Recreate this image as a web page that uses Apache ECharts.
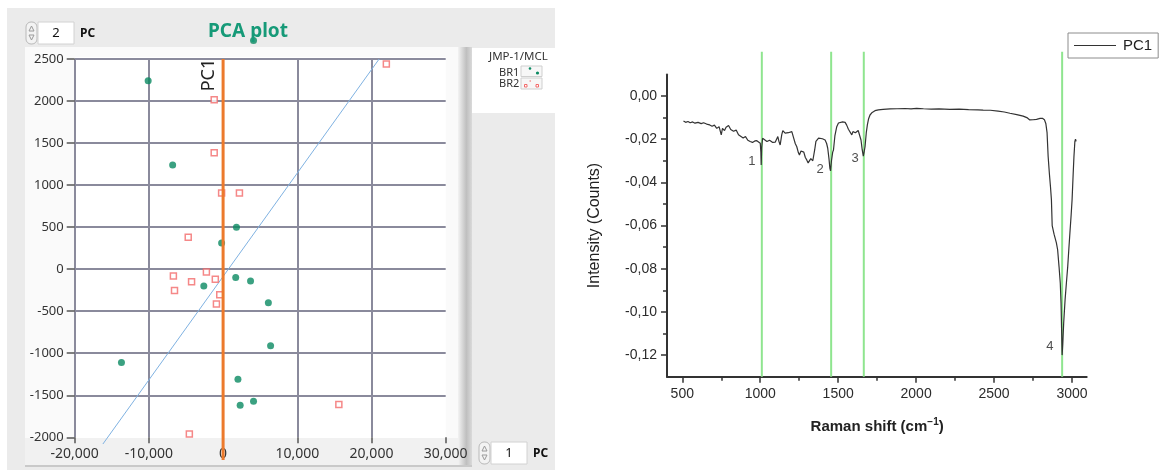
<!DOCTYPE html>
<html><head><meta charset="utf-8">
<script src="https://cdn.jsdelivr.net/npm/echarts@6/dist/echarts.min.js"></script>
<style>html,body{margin:0;padding:0;background:#fff}#c{width:1163px;height:476px}</style>
</head><body><div id="c"></div>
<script>
// ---------- PCA plot (left) ----------
const br1X = [-10100, -6800, 1800, -200, 1700, -2600, 3700, 6100, 6400, 2000, 2300, 4100, -13700, 4100];
const br1Y = [2240, 1240, 500, 310, -100, -200, -140, -400, -910, -1310, -1620, -1570, -1110, 2720];
const br2X = [22000, -1200, -1200, -200, 2200, -4700, -6700, -2250, -4250, -1050, -6550, -450, -900, -4550, 15600];
const br2Y = [2440, 2015, 1385, 905, 905, 380, -80, -35, -150, -120, -255, -305, -413, -1960, -1610];
const fitX = [-16200, 21030];
const fitY = [-2080, 2500];
const pcAxisX = [0, 0];
const pcAxisY = [2500, -2270];
const pcaXTicks = [-20000, 30000, 10000];   // min, max, step
const pcaYTicks = [-2000, 2500, 500];

// ---------- PC1 loading spectrum (right) ----------
const ramanX = [506,520,535,549,565,580,600,620,635,655,675,690,705,720,735,749,757,770,780,796,810,828,845,860,871,890,905,920,935,950,965,978,990,1000,1004,1006,1009,1015,1025,1043,1060,1080,1096,1105,1113,1120,1128,1138,1145,1160,1170,1181,1192,1203,1215,1225,1235,1245,1252,1262,1270,1280,1290,1299,1308,1317,1325,1332,1338,1342,1350,1358,1364,1375,1385,1400,1417,1427,1434,1442,1448,1452,1458,1466,1471,1480,1492,1503,1514,1530,1546,1556,1567,1578,1589,1596,1604,1612,1621,1630,1638,1648,1656,1663,1668,1674,1682,1689,1697,1706,1720,1738,1760,1790,1835,1880,1930,1970,2006,2050,2100,2150,2220,2280,2340,2400,2434,2480,2530,2570,2606,2650,2691,2715,2734,2755,2777,2800,2815,2828,2837,2845,2852,2860,2867,2873,2878,2890,2905,2913,2922,2930,2935,2938,2942,2946,2952,2961,2970,2978,2985,2992,3000,3006,3013,3018,3024,3028,3032];
const ramanY = [-0.0116,-0.0122,-0.0118,-0.0124,-0.0120,-0.0126,-0.0122,-0.0128,-0.0124,-0.0130,-0.0134,-0.0140,-0.0135,-0.0150,-0.0142,-0.0180,-0.0150,-0.0160,-0.0145,-0.0137,-0.0155,-0.0163,-0.0158,-0.0180,-0.0176,-0.0195,-0.0188,-0.0205,-0.0211,-0.0215,-0.0208,-0.0207,-0.0214,-0.0219,-0.0260,-0.0319,-0.0240,-0.0196,-0.0205,-0.0211,-0.0205,-0.0215,-0.0214,-0.0200,-0.0188,-0.0210,-0.0227,-0.0180,-0.0160,-0.0172,-0.0165,-0.0170,-0.0162,-0.0165,-0.0195,-0.0220,-0.0235,-0.0262,-0.0273,-0.0255,-0.0248,-0.0260,-0.0285,-0.0296,-0.0310,-0.0309,-0.0290,-0.0281,-0.0300,-0.0304,-0.0250,-0.0210,-0.0201,-0.0195,-0.0191,-0.0198,-0.0204,-0.0220,-0.0242,-0.0290,-0.0335,-0.0347,-0.0300,-0.0260,-0.0250,-0.0185,-0.0142,-0.0125,-0.0116,-0.0120,-0.0122,-0.0135,-0.0154,-0.0162,-0.0180,-0.0165,-0.0157,-0.0170,-0.0173,-0.0160,-0.0165,-0.0204,-0.0250,-0.0278,-0.0260,-0.0235,-0.0170,-0.0134,-0.0105,-0.0088,-0.0076,-0.0068,-0.0064,-0.0062,-0.0060,-0.0059,-0.0058,-0.0060,-0.0057,-0.0059,-0.0061,-0.0060,-0.0062,-0.0061,-0.0063,-0.0064,-0.0065,-0.0066,-0.0070,-0.0074,-0.0080,-0.0086,-0.0093,-0.0100,-0.0111,-0.0110,-0.0108,-0.0104,-0.0103,-0.0110,-0.0127,-0.0170,-0.0280,-0.0360,-0.0420,-0.0480,-0.0600,-0.0640,-0.0680,-0.0712,-0.0790,-0.0866,-0.0960,-0.1066,-0.1200,-0.1150,-0.1050,-0.0943,-0.0860,-0.0789,-0.0710,-0.0634,-0.0550,-0.0480,-0.0360,-0.0280,-0.0210,-0.0200,-0.0210];
const bandX = [1010, 1456, 1666, 2942];
const peakNames = ['1', '2', '3', '4'];
const peakX = [946, 1385, 1610, 2863];
const peakY = [-0.0301, -0.0339, -0.0289, -0.1162];
const ramanRange = [400, 3100];
const ramanMajor = [500, 3000, 500];
const intensityRange = [-0.13, 0.01];
const intensityMajor = [-0.12, 0, 0.02];

const chart = echarts.init(document.getElementById('c'));
const LF = 'Noto Sans';
const RF = 'Liberation Sans';
const gridCol = '#8a8a9c';

function zip(a, b) { return a.map((v, i) => [v, b[i]]); }

const g = [];
let zz = 0;
function bg(x, y, w, h, fill, extra) {
  g.push(Object.assign({ type: 'rect', z: -1, z2: zz++, silent: true, shape: { x: x, y: y, width: w, height: h }, style: { fill: fill } }, extra || {}));
}
function txt(x, y, s, size, opts) {
  g.push({ type: 'text', z: 50, silent: true, x: x, y: y,
    rotation: (opts && opts.rot) || 0,
    style: { text: s, fontSize: size, fontFamily: (opts && opts.ff) || LF, fontWeight: (opts && opts.bold) ? 'bold' : 'normal',
      fill: (opts && opts.color) || '#222', align: (opts && opts.align) || 'left', verticalAlign: 'middle' } });
}
// panel & frame
bg(7, 8, 548, 462, '#ebebeb');
bg(25, 47, 440, 420, '#fafafa');
bg(74.7, 57, 371, 381, '#ffffff');
bg(25, 438, 440, 28, '#f1f1f1');
bg(458, 47, 14, 420, { type: 'linear', x: 0, y: 0, x2: 1, y2: 0, colorStops: [{ offset: 0, color: '#f3f3f3' }, { offset: 0.6, color: '#bfbfbf' }, { offset: 1, color: '#dadada' }] });
bg(25, 465, 447, 2, '#c9c9c9');
bg(472, 48, 83, 65, '#ffffff');
// legend icons (left)
bg(521, 66, 21, 10.5, '#f7f7f7', { style: { fill: '#f7f7f7', stroke: '#cfcfcf', lineWidth: 1 } });
bg(521, 78, 21, 11, '#f7f7f7', { style: { fill: '#f7f7f7', stroke: '#cfcfcf', lineWidth: 1 } });
g.push({ type: 'circle', z: 40, silent: true, shape: { cx: 530, cy: 68.5, r: 1.3 }, style: { fill: '#0a8a62' } });
g.push({ type: 'circle', z: 40, silent: true, shape: { cx: 537.5, cy: 73, r: 1.6 }, style: { fill: '#0a8a62' } });
g.push({ type: 'rect', z: 40, silent: true, shape: { x: 524.5, y: 84.5, width: 2.5, height: 2.5 }, style: { fill: '#fff', stroke: '#f26a6a', lineWidth: 1 } });
g.push({ type: 'rect', z: 40, silent: true, shape: { x: 536, y: 84.5, width: 2.5, height: 2.5 }, style: { fill: '#fff', stroke: '#f26a6a', lineWidth: 1 } });
g.push({ type: 'rect', z: 40, silent: true, shape: { x: 529.5, y: 80.5, width: 1.5, height: 1 }, style: { fill: '#f26a6a' } });
txt(489, 57, 'JMP-1/MCL', 11.5, { color: '#333' });
txt(499, 72.5, 'BR1', 11, { color: '#333' });
txt(499, 83.5, 'BR2', 11, { color: '#333' });
// spinners
function spinner(x, y, val) {
  g.push({ type: 'rect', z: 30, silent: true, shape: { x: x, y: y, width: 11, height: 22, r: 5 }, style: { fill: '#f3f3f3', stroke: '#b9b9b9', lineWidth: 1 } });
  g.push({ type: 'polygon', z: 31, silent: true, shape: { points: [[x + 3, y + 9], [x + 5.5, y + 4], [x + 8, y + 9]] }, style: { fill: 'none', stroke: '#9a9a9a', lineWidth: 1 } });
  g.push({ type: 'polygon', z: 31, silent: true, shape: { points: [[x + 3, y + 13], [x + 5.5, y + 18], [x + 8, y + 13]] }, style: { fill: 'none', stroke: '#9a9a9a', lineWidth: 1 } });
  g.push({ type: 'rect', z: 30, silent: true, shape: { x: x + 12, y: y, width: 36, height: 22 }, style: { fill: '#ffffff', stroke: '#d2d2d2', lineWidth: 1 } });
  txt(x + 30, y + 11.5, val, 13, { align: 'center', color: '#111' });
  txt(x + 54, y + 12, 'PC', 12, { bold: true, color: '#111' });
}
spinner(26, 22, '2');
spinner(479, 442, '1');
txt(248, 32, 'PCA plot', 19, { bold: true, color: '#169a78', align: 'center' });
txt(209, 75, 'PC1', 18, { rot: Math.PI / 2, align: 'center', color: '#222' });

const option = {
  animation: false,
  backgroundColor: '#ffffff',
  graphic: { elements: g },
  legend: {
    data: [{ name: 'PC1', icon: 'rect' }], left: 1068, top: 33, padding: [5, 6, 5, 6], itemWidth: 42, itemHeight: 1.2, itemGap: 4,
    borderColor: '#8c8c8c', borderWidth: 1, backgroundColor: '#fff',
    itemStyle: { color: '#333' },
    textStyle: { fontFamily: RF, fontSize: 15, color: '#222', padding: [0, 0, 0, 2] }
  },
  grid: [
    { left: 74.7, top: 59, width: 371, height: 378.3 },
    { left: 667, top: 74.4, width: 419.7, height: 302.3 },
    { left: 682.3, top: 74.4, width: 389.7, height: 302.3 },
    { left: 667, top: 96, width: 419.7, height: 259 }
  ],
  xAxis: [
    { gridIndex: 0, type: 'value', min: pcaXTicks[0], max: pcaXTicks[1], interval: pcaXTicks[2],
      axisLine: { show: false, onZero: false },
      axisTick: { show: true, length: 6, lineStyle: { color: '#555', width: 1.5 } },
      axisLabel: { margin: 10, fontFamily: LF, fontSize: 14, color: '#333', formatter: v => v.toLocaleString('en-US') },
      splitLine: { show: true, showMaxLine: false, lineStyle: { color: gridCol, width: 2 } } },
    { gridIndex: 1, type: 'value', min: ramanRange[0], max: ramanRange[1],
      axisLine: { show: true, onZero: false, lineStyle: { color: '#333', width: 2 } },
      axisTick: { show: false }, axisLabel: { show: false }, splitLine: { show: false } },
    { gridIndex: 2, type: 'value', min: ramanMajor[0], max: ramanMajor[1], interval: ramanMajor[2],
      axisLine: { show: false, onZero: false },
      axisTick: { show: true, length: 6, lineStyle: { color: '#333', width: 1.5 } },
      minorTick: { show: true, splitNumber: 2, length: 4, lineStyle: { color: '#333', width: 1.5 } },
      axisLabel: { margin: 10, fontFamily: RF, fontSize: 14, color: '#2b2b2b', formatter: v => String(v) },
      splitLine: { show: false },
      name: 'Raman shift (cm{sup|\u22121})', nameLocation: 'middle', nameGap: 41,
      nameTextStyle: { fontFamily: RF, fontSize: 15, fontWeight: 'bold', color: '#222',
        rich: { sup: { fontFamily: RF, fontSize: 10, fontWeight: 'bold', color: '#222', verticalAlign: 'top', padding: [0, 0, 8, 0] } } } },
    { gridIndex: 3, type: 'value', min: 0, max: 1, show: false }
  ],
  yAxis: [
    { gridIndex: 0, type: 'value', min: pcaYTicks[0], max: pcaYTicks[1], interval: pcaYTicks[2],
      axisLine: { show: false, onZero: false },
      axisTick: { show: true, length: 8, lineStyle: { color: '#555', width: 1.5 } },
      axisLabel: { margin: 11, fontFamily: LF, fontSize: 13, color: '#333', formatter: v => String(v) },
      splitLine: { show: true, showMinLine: false, lineStyle: { color: gridCol, width: 2 } } },
    { gridIndex: 1, type: 'value', min: intensityRange[0], max: intensityRange[1],
      axisLine: { show: true, onZero: false, lineStyle: { color: '#333', width: 2 } },
      axisTick: { show: false }, axisLabel: { show: false }, splitLine: { show: false } },
    { gridIndex: 2, type: 'value', min: 0, max: 1, show: false },
    { gridIndex: 3, type: 'value', min: intensityMajor[0], max: intensityMajor[1], interval: intensityMajor[2],
      axisLine: { show: false, onZero: false },
      axisTick: { show: true, length: 6, lineStyle: { color: '#333', width: 1.5 } },
      minorTick: { show: true, splitNumber: 2, length: 4, lineStyle: { color: '#333', width: 1.5 } },
      axisLabel: { margin: 10, fontFamily: RF, fontSize: 14, color: '#2b2b2b', formatter: v => v.toFixed(2).replace('.', ',').replace('-0,00', '0,00') },
      splitLine: { show: false },
      name: 'Intensity (Counts)', nameLocation: 'middle', nameGap: 64,
      nameTextStyle: { fontFamily: RF, fontSize: 16, color: '#222' } }
  ],
  series: [
    { name: 'fit', type: 'line', xAxisIndex: 0, yAxisIndex: 0, data: zip(fitX, fitY), symbol: 'none', clip: false,
      lineStyle: { color: '#7fb2e2', width: 1 }, z: 3, silent: true },
    { name: 'BR2', type: 'scatter', xAxisIndex: 0, yAxisIndex: 0, data: zip(br2X, br2Y), symbol: 'rect', symbolSize: 6,
      itemStyle: { color: '#ffffff', borderColor: '#f26a6a', borderWidth: 1.5 }, z: 4, clip: false },
    { name: 'BR1', type: 'scatter', xAxisIndex: 0, yAxisIndex: 0, data: zip(br1X, br1Y), symbol: 'circle', symbolSize: 7,
      itemStyle: { color: '#0a8a62' }, z: 4, clip: false },
    { name: 'PC1 axis', type: 'line', xAxisIndex: 0, yAxisIndex: 0, data: zip(pcAxisX, pcAxisY), symbol: 'none', clip: false,
      lineStyle: { color: '#ec7a2c', width: 3 }, z: 5, silent: true },
    ...bandX.map(x => ({ name: 'band' + x, type: 'line', xAxisIndex: 1, yAxisIndex: 1, data: [[x, intensityRange[0]], [x, 0.0205]],
      symbol: 'none', clip: false, lineStyle: { color: '#8fe58f', width: 2 }, z: 2, silent: true })),
    { name: 'PC1', type: 'line', xAxisIndex: 1, yAxisIndex: 1, data: zip(ramanX, ramanY), symbol: 'none',
      lineStyle: { color: '#333333', width: 1.2 }, itemStyle: { color: '#333333' }, z: 3 },
    { name: 'peaks', type: 'scatter', xAxisIndex: 1, yAxisIndex: 1, symbolSize: 0.1, itemStyle: { color: 'rgba(0,0,0,0)' },
      data: peakX.map((x, i) => ({ value: [x, peakY[i]], label: { formatter: peakNames[i] } })),
      label: { show: true, position: 'inside', fontFamily: RF, fontSize: 13, color: '#222' }, z: 6, silent: true }
  ]
};
chart.setOption(option);
</script></body></html>
